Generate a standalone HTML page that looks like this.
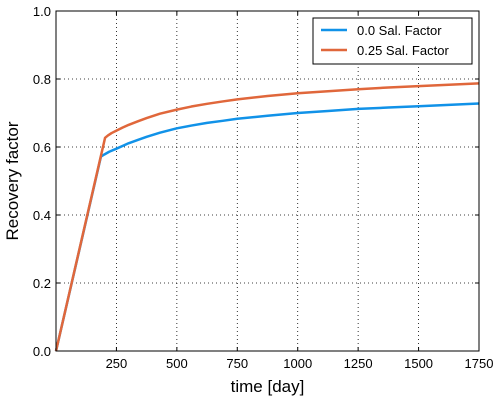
<!DOCTYPE html>
<html><head><meta charset="utf-8"><style>
body{margin:0;background:#fff;font-family:"Liberation Sans",sans-serif;}
svg text{font-family:"Liberation Sans",sans-serif;}
</style></head><body>
<svg id="chart" width="500" height="400"></svg>
<script>
const xTicks=[250,500,750,1000,1250,1500,1750];
const yTicks=[0.0,0.2,0.4,0.6,0.8,1.0];
const seriesNames=["0.0 Sal. Factor","0.25 Sal. Factor"];
const blueX=[0,186,200,220,250,275,300,340,375,430,500,560,625,690,750,875,1000,1125,1250,1375,1500,1625,1750];
const blueY=[0,0.572,0.578,0.586,0.595,0.603,0.611,0.621,0.630,0.642,0.655,0.663,0.671,0.677,0.683,0.692,0.700,0.706,0.712,0.716,0.720,0.724,0.728];
const orangeX=[0,203,215,230,250,275,300,340,375,430,500,560,625,690,750,875,1000,1125,1250,1375,1500,1625,1750];
const orangeY=[0,0.627,0.634,0.641,0.648,0.657,0.665,0.676,0.685,0.698,0.710,0.719,0.727,0.734,0.740,0.750,0.758,0.764,0.770,0.775,0.779,0.783,0.787];
const colors=["#1192e8","#e0673b"];
const L=56,R=479,T=11,B=351;
const sx=v=>L+(v/1750)*(R-L), sy=v=>B-v*(B-T);
const svg=document.getElementById('chart');const NS="http://www.w3.org/2000/svg";
function mk(t,a,p){const e=document.createElementNS(NS,t);for(const k in a)e.setAttribute(k,a[k]);(p||svg).appendChild(e);return e;}
xTicks.forEach(v=>{const g=mk('line',{x1:sx(v),x2:sx(v),y1:T,y2:B,stroke:'#000','stroke-dasharray':'1,3','stroke-width':0.8});

const tk=mk('line',{x1:sx(v),x2:sx(v),y1:B,y2:B-4,stroke:'#000'});
const tk2=mk('line',{x1:sx(v),x2:sx(v),y1:T,y2:T+4,stroke:'#000'});
const t=mk('text',{x:sx(v),y:B+17,'text-anchor':'middle','font-size':13});t.textContent=v;
});
yTicks.forEach(v=>{const g=mk('line',{x1:L,x2:R,y1:sy(v),y2:sy(v),stroke:'#000','stroke-dasharray':'1,3','stroke-width':0.8});

const tk=mk('line',{x1:L,x2:L+4,y1:sy(v),y2:sy(v),stroke:'#000'});
const tk2=mk('line',{x1:R,x2:R-4,y1:sy(v),y2:sy(v),stroke:'#000'});
const t=mk('text',{x:L-5,y:sy(v)+5,'text-anchor':'end','font-size':13});t.textContent=v.toFixed(1);
});
[[blueX,blueY],[orangeX,orangeY]].forEach((s,i)=>{const p=mk('polyline',{points:s[0].map((x,j)=>sx(x)+','+sy(s[1][j])).join(' '),fill:'none',stroke:colors[i],'stroke-width':2.5,'stroke-linejoin':'round'});
});
const fr=mk('rect',{x:L,y:T,width:R-L,height:B-T,fill:'none',stroke:'#000','stroke-width':1});

const lg=mk('g',{});
mk('rect',{x:313,y:18,width:159,height:46,fill:'#fff',stroke:'#000','stroke-width':1},lg);
seriesNames.forEach((n,i)=>{mk('line',{x1:321,x2:347,y1:30+i*20,y2:30+i*20,stroke:colors[i],'stroke-width':2.5},lg);
const t=mk('text',{x:357,y:35+i*20,'font-size':13},lg);t.textContent=n;
});
const xt=mk('text',{x:(L+R)/2,y:392,'text-anchor':'middle','font-size':17});xt.textContent='time [day]';

const yt=mk('text',{x:18,y:(T+B)/2,'text-anchor':'middle','font-size':17,transform:`rotate(-90 18 ${(T+B)/2})`});yt.textContent='Recovery factor';

</script>
</body></html>
